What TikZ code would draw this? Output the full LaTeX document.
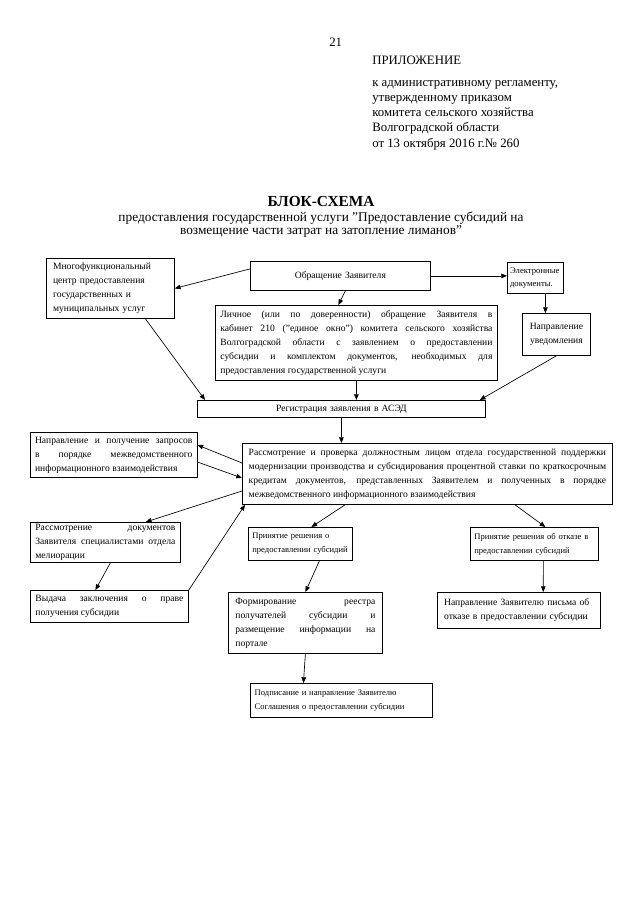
\documentclass[tikz,border=0pt]{standalone}
\usepackage{fontspec}
\setmainfont{Liberation Serif}
\usetikzlibrary{arrows.meta,positioning,calc}

\begin{document}
\begin{tikzpicture}[
  x=0.75pt, y=-0.75pt,
  box/.style={rectangle, draw, line width=0.6pt, anchor=north west, inner xsep=3.5pt, inner ysep=1pt, align=justify, font=\fontsize{7.2}{10.5}\selectfont},
  cbox/.style={box, align=center},
  lbox/.style={box, align=left},
  sbox/.style={lbox, inner xsep=3pt, font=\fontsize{6.4}{10.5}\selectfont},
  arr/.style={-{Triangle[length=1.5mm, width=1.2mm]}, line width=0.5pt},
  hdr/.style={anchor=west, inner sep=0pt, font=\fontsize{9.6}{11.4}\selectfont}
]
  \useasboundingbox (0,0) rectangle (640,905);

  % header
  \node[hdr] (pg) at (329,42) {21};
  \node[hdr] (pril) at (372,60) {ПРИЛОЖЕНИЕ};
  \node[hdr, anchor=north west, align=left] (reg1) at (372,80) {к административному регламенту,\\утвержденному приказом\\комитета сельского хозяйства\\Волгоградской области\\от 13 октября 2016 г.№ 260};

  \node[inner sep=0pt, font=\fontsize{11.5}{12}\selectfont\bfseries] (ttl) at (321,202) {БЛОК-СХЕМА};
  \node[inner sep=0pt, anchor=north, align=center, font=\fontsize{10}{9.8}\selectfont] (sub) at (321,212)
    {предоставления государственной услуги "Предоставление субсидий на\\возмещение части затрат на затопление лиманов"};

  % boxes
  \node[lbox, inner xsep=5pt, text width=86pt, minimum width=96pt, minimum height=45pt] (mfc) at (46,258)
    {Многофункциональный\\центр предоставления\\государственных и\\муниципальных услуг};
  \node[cbox, text width=128pt, minimum width=135pt, minimum height=21.75pt] (obr) at (250,261)
    {Обращение Заявителя};
  \node[lbox, inner xsep=2pt, text width=38pt, minimum width=42pt, minimum height=23.25pt, font=\fontsize{6.5}{10}\selectfont] (ele) at (507,262)
    {Электронные\\документы.};
  \node[box, text width=204pt, minimum width=211.5pt, minimum height=56.25pt] (lich) at (215,305)
    {Личное (или по доверенности) обращение Заявителя в\linebreak
     кабинет 210 ("единое окно") комитета сельского хозяйства\linebreak
     Волгоградской области с заявлением о предоставлении\linebreak
     субсидии и комплектом документов, необходимых для\linebreak
     предоставления государственной услуги};
  \node[cbox, inner xsep=2pt, text width=47pt, minimum width=51pt, minimum height=31.5pt] (uved) at (522,313)
    {Направление\\уведомления};
  \node[cbox, text width=209pt, minimum width=216pt, minimum height=12.75pt] (reg) at (197,400)
    {Регистрация заявления в АСЭД};
  \node[box, text width=118pt, minimum width=125pt, minimum height=33.75pt] (zap) at (30,432)
    {Направление и получение запросов\linebreak
     в порядке межведомственного\linebreak
     информационного взаимодействия};
  \node[box, inner xsep=4.5pt, text width=268pt, minimum width=277.5pt, minimum height=45.75pt] (ras) at (242,443)
    {Рассмотрение и проверка должностным лицом отдела государственной поддержки\linebreak
     модернизации производства и субсидирования процентной ставки по краткосрочным\linebreak
     кредитам документов, представленных Заявителем и полученных в порядке\linebreak
     межведомственного информационного взаимодействия};
  \node[box, text width=105pt, minimum width=112.5pt, minimum height=30pt] (rdoc) at (30,522)
    {Рассмотрение документов\linebreak
     Заявителя специалистами отдела\linebreak
     мелиорации};
  \node[box, text width=111pt, minimum width=118.5pt, minimum height=24pt] (vyd) at (30,590)
    {Выдача заключения о праве\linebreak
     получения субсидии};
  \node[sbox, text width=72pt, minimum width=78pt, minimum height=24.75pt] (prin) at (248,527)
    {Принятие решения о\\предоставлении субсидий};
  \node[sbox, text width=90pt, minimum width=96pt, minimum height=24.75pt] (otk) at (470,527)
    {Принятие решения об отказе в\\предоставлении субсидий};
  \node[box, inner xsep=5pt, text width=105pt, minimum width=115.5pt, minimum height=45.75pt] (form) at (228,592)
    {Формирование реестра\linebreak
     получателей субсидии и\linebreak
     размещение информации на\linebreak
     портале};
  \node[lbox, inner xsep=5pt, text width=112pt, minimum width=122pt, minimum height=27pt] (pis) at (437,592)
    {Направление Заявителю письма об\\отказе в предоставлении субсидии};
  \node[sbox, text width=130pt, minimum width=136.5pt, minimum height=25.5pt] (pod) at (250,683)
    {Подписание и направление Заявителю\\Соглашения о предоставлении субсидии};

  % connectors
  \draw[arr] ($(obr.west)+(0,-7)$) -- (mfc.east);
  \draw[arr] ($(obr.south)+(5,0)$) -- ($(lich.north)+(-18,0)$);
  \draw[arr] (obr.east) -- (obr.east -| ele.west);
  \draw[arr] ($(ele.south)+(10,0)$) -- ($(uved.north)+(-11,0)$);
  \draw[arr] ($(mfc.south)+(35,0)$) -- ($(reg.north west)+(8,0)$);
  \draw[arr] (lich.south) -- (lich.south |- reg.north);
  \draw[arr] (uved.south) -- ($(reg.north east)+(-6,0)$);
  \draw[arr] (reg.south) -- (reg.south |- ras.north);
  \draw[arr] ($(ras.north west)+(0,20)$) -- ($(zap.north east)+(0,13)$);
  \draw[arr] ($(zap.north east)+(0,30)$) -- ($(ras.north west)+(0,35)$);
  \draw[arr] ($(ras.north west)+(0,48)$) -- ($(rdoc.north east)+(-35,0)$);
  \draw[arr] ($(rdoc.south)+(5,0)$) -- ($(vyd.north)+(-14,0)$);
  \draw[arr] (vyd.north east) -- ($(ras.south west)+(3,0)$);
  \draw[arr] ($(ras.south west)+(103,0)$) -- ($(prin.north)+(11,0)$);
  \draw[arr] ($(ras.south west)+(273,0)$) -- ($(otk.north)+(11,0)$);
  \draw[arr] ($(prin.south)+(19,0)$) -- (form.north);
  \draw[arr] ($(otk.south)+(9,0)$) -- ($(pis.north)+(24.5,0)$);
  \draw[arr] (form.south) -- ($(pod.north)+(-38,0)$);
\end{tikzpicture}
\end{document}
